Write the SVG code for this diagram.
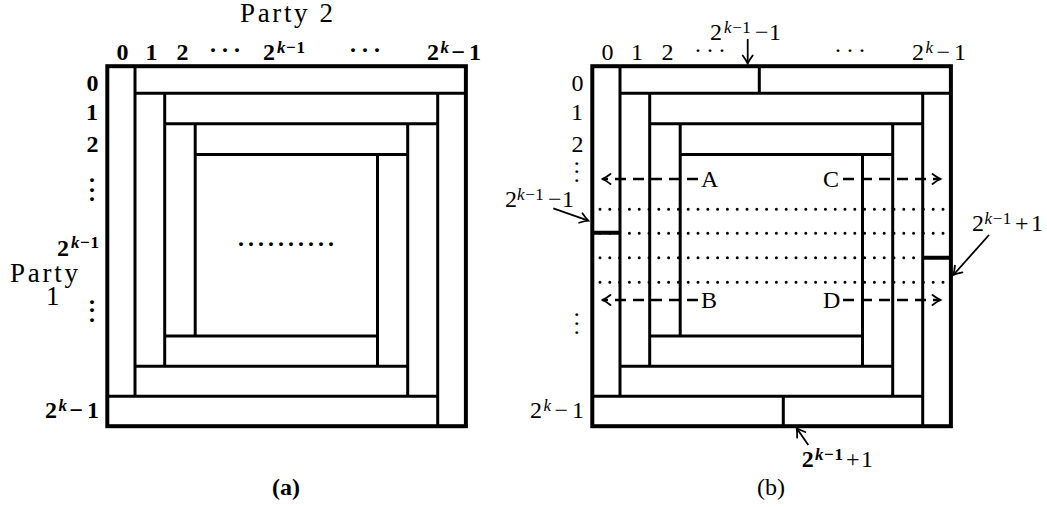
<svg xmlns="http://www.w3.org/2000/svg" width="1047" height="507" viewBox="0 0 1047 507">
<style>
.bg{fill:#fff}
.outer{fill:none;stroke:#000;stroke-width:4}
.grid{fill:none;stroke:#000;stroke-width:3;stroke-linecap:butt}
.div{fill:none;stroke:#000;stroke-width:4}
.dots{fill:none;stroke:#000;stroke-width:3;stroke-linecap:round;stroke-dasharray:0 9.8}
.dash{fill:none;stroke:#000;stroke-width:2.4;stroke-dasharray:11 7}
.arr{fill:none;stroke:#000;stroke-width:1.8}
.b{font-family:"Liberation Serif","DejaVu Serif",serif;font-size:24px;font-weight:bold;fill:#000}
.r{font-family:"Liberation Serif","DejaVu Serif",serif;font-size:24px;font-weight:normal;fill:#000}
.s{font-size:17px;letter-spacing:0.6px}
.k{font-style:italic}
.p{font-family:"Liberation Serif","DejaVu Serif",serif;font-size:27px;fill:#000}
</style>
<defs>
<marker id="ah" viewBox="-10 -7 12 14" refX="0" refY="0" markerWidth="12" markerHeight="14" markerUnits="userSpaceOnUse" orient="auto">
<path d="M-8,-5 Q-3,-1.3 0,0 Q-3,1.3 -8,5" fill="none" stroke="#000" stroke-width="1.8" stroke-linecap="round"/>
</marker>
</defs>
<rect class="bg" x="0" y="0" width="1047" height="507"/>

<g id="panel-a">
<path class="grid" d="M135,66.2V396.3 M135,93.3H465.9 M437.7,93.3V426.2 M107.3,396.3H437.7 M164.7,93.3V366.3 M164.7,123.7H437.7 M407.7,123.7V396.3 M135,366.3H407.7 M195.2,123.7V335.9 M195.2,154.5H407.7 M377.5,154.5V366.3 M164.7,335.9H377.5"/>
<rect class="outer" x="107.3" y="66.2" width="358.6" height="360"/>
<text class="b" text-anchor="middle" x="241 251 261 271 281 291 301 311 321 331" y="252">··········</text>
</g>

<g id="labels-a">
<text class="p" x="240" y="22" textLength="93">Party 2</text>
<text class="b" text-anchor="middle" x="122.5" y="60">0</text>
<text class="b" text-anchor="middle" x="151.5" y="60">1</text>
<text class="b" text-anchor="middle" x="182.5" y="60">2</text>
<text class="b" text-anchor="middle" x="213 225 237" y="58">···</text>
<text class="b" y="60"><tspan x="263">2</tspan><tspan class="s" x="277" y="53"><tspan class="k">k</tspan>−1</tspan></text>
<text class="b" text-anchor="middle" x="353 365 377" y="58">···</text>
<text class="b" y="60"><tspan x="427">2</tspan><tspan class="s k" x="440.5" y="53">k</tspan><tspan x="451.5" y="60">−</tspan><tspan x="469">1</tspan></text>
<text class="b" text-anchor="end" x="98.5" y="91">0</text>
<text class="b" text-anchor="end" x="98" y="120">1</text>
<text class="b" text-anchor="end" x="98.5" y="152">2</text>
<text class="b" text-anchor="middle" x="92 92 92" y="188 198 207">···</text>
<text class="b" y="256"><tspan x="57">2</tspan><tspan class="s" x="71" y="248"><tspan class="k">k</tspan>−1</tspan></text>
<text class="p"><tspan x="10" y="282" textLength="68">Party</tspan><tspan x="46" y="305">1</tspan></text>
<text class="b" text-anchor="middle" x="92 92 92" y="310 318 328">···</text>
<text class="b" y="418"><tspan x="45">2</tspan><tspan class="s k" x="58.5" y="411">k</tspan><tspan x="69.5" y="418">−</tspan><tspan x="87">1</tspan></text>
<text class="b" text-anchor="middle" x="286" y="495">(a)</text>
</g>

<g id="panel-b">
<g class="dots">
<path d="M600,209.3H944 M600,233.3H944 M600,257.7H944 M600,282.3H944"/>
</g>
<path class="grid" d="M620,66.2V396.3 M620,93.3H950.9 M922.7,93.3V426.2 M592.3,396.3H922.7 M649.7,93.3V366.3 M649.7,123.7H922.7 M892.7,123.7V396.3 M620,366.3H892.7 M680.2,123.7V335.9 M680.2,154.5H892.7 M862.5,154.5V366.3 M649.7,335.9H862.5 M759.3,66.2V93.3 M783.3,396.3V426.2"/>
<path class="div" d="M592.3,232.7H620 M922.7,257.7H950.9"/>
<rect class="outer" x="592.3" y="66.2" width="358.6" height="360"/>
</g>

<g id="connectors">
<path class="dash" d="M698,179H602.5" marker-end="url(#ah)"/>
<path class="dash" d="M843,179H940.5" marker-end="url(#ah)"/>
<path class="dash" d="M698,300H602.5" marker-end="url(#ah)"/>
<path class="dash" d="M843,300H940.5" marker-end="url(#ah)"/>
<path class="arr" d="M747.7,39V63.5" marker-end="url(#ah)"/>
<path class="arr" d="M553.3,208.3L588.3,220.7" marker-end="url(#ah)"/>
<path class="arr" d="M989,235L953.3,275" marker-end="url(#ah)"/>
<path class="arr" d="M808.3,445L796.7,428.3" marker-end="url(#ah)"/>
</g>

<g id="labels-b">
<text class="r" x="701" y="187">A</text>
<text class="r" x="823" y="187">C</text>
<text class="r" x="701" y="308">B</text>
<text class="r" x="823" y="308">D</text>
<text class="r" text-anchor="middle" x="607.5" y="60">0</text>
<text class="r" text-anchor="middle" x="637" y="60">1</text>
<text class="r" text-anchor="middle" x="667.5" y="60">2</text>
<text class="r" text-anchor="middle" x="698 710 722" y="58">···</text>
<text class="r" text-anchor="middle" x="838 850 862" y="58">···</text>
<text class="r" y="60"><tspan x="912">2</tspan><tspan class="s k" x="925.5" y="53">k</tspan><tspan x="936.5" y="60">−</tspan><tspan x="954">1</tspan></text>
<text class="r" y="39.5"><tspan x="710">2</tspan><tspan class="s" x="724" y="32.5"><tspan class="k">k</tspan>−1</tspan><tspan x="755" y="39.5">−</tspan><tspan x="769">1</tspan></text>
<text class="r" text-anchor="end" x="583.5" y="91">0</text>
<text class="r" text-anchor="end" x="583" y="120">1</text>
<text class="r" text-anchor="end" x="583.5" y="152">2</text>
<text class="r" text-anchor="middle" x="576.7 576.7 576.7" y="171 179.3 187.7">···</text>
<text class="r" y="207"><tspan x="505">2</tspan><tspan class="s" x="517" y="200"><tspan class="k">k</tspan>−1</tspan><tspan x="548" y="207">−</tspan><tspan x="562">1</tspan></text>
<text class="r" y="230.7"><tspan x="972">2</tspan><tspan class="s" x="984.5" y="223.5"><tspan class="k">k</tspan>−1</tspan><tspan x="1015" y="230.7">+</tspan><tspan x="1031">1</tspan></text>
<text class="r" text-anchor="middle" x="576.7 576.7 576.7" y="322 331 340">···</text>
<text class="r" y="418"><tspan x="530">2</tspan><tspan class="s k" x="543.5" y="411">k</tspan><tspan x="554.5" y="418">−</tspan><tspan x="572">1</tspan></text>
<text class="r" y="466.7"><tspan x="801.7" font-weight="bold">2</tspan><tspan class="s" x="815" y="459.5" font-weight="bold"><tspan class="k">k</tspan>−1</tspan><tspan x="846" y="466.7">+</tspan><tspan x="861">1</tspan></text>
<text class="r" text-anchor="middle" x="771" y="495">(b)</text>
</g>
</svg>
